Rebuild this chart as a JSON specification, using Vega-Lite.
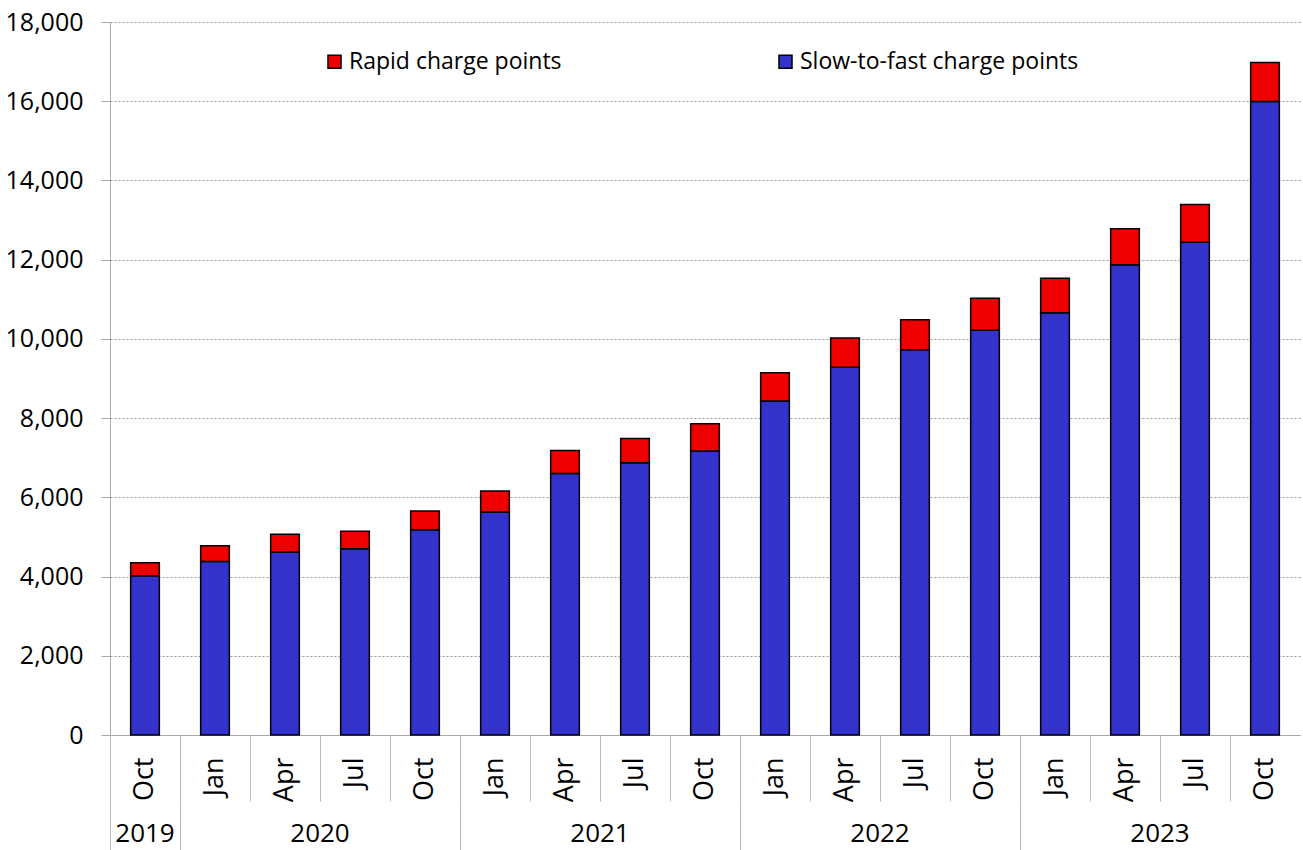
{
  "$schema": "https://vega.github.io/schema/vega-lite/v6.json",
  "width": 1190,
  "height": 713,
  "autosize": "none",
  "padding": {"left": 110, "top": 22, "right": 3, "bottom": 115},
  "background": "white",
  "config": {"font": "Open Sans", "view": {"stroke": null}},
  "data": {
    "values": [
      {"period": "2019 Oct", "type": "Slow-to-fast charge points", "value": 4020},
      {"period": "2019 Oct", "type": "Rapid charge points", "value": 330},
      {"period": "2020 Jan", "type": "Slow-to-fast charge points", "value": 4380},
      {"period": "2020 Jan", "type": "Rapid charge points", "value": 400},
      {"period": "2020 Apr", "type": "Slow-to-fast charge points", "value": 4620},
      {"period": "2020 Apr", "type": "Rapid charge points", "value": 450},
      {"period": "2020 Jul", "type": "Slow-to-fast charge points", "value": 4700},
      {"period": "2020 Jul", "type": "Rapid charge points", "value": 445},
      {"period": "2020 Oct", "type": "Slow-to-fast charge points", "value": 5180},
      {"period": "2020 Oct", "type": "Rapid charge points", "value": 475},
      {"period": "2021 Jan", "type": "Slow-to-fast charge points", "value": 5630},
      {"period": "2021 Jan", "type": "Rapid charge points", "value": 530},
      {"period": "2021 Apr", "type": "Slow-to-fast charge points", "value": 6600},
      {"period": "2021 Apr", "type": "Rapid charge points", "value": 580},
      {"period": "2021 Jul", "type": "Slow-to-fast charge points", "value": 6875},
      {"period": "2021 Jul", "type": "Rapid charge points", "value": 610},
      {"period": "2021 Oct", "type": "Slow-to-fast charge points", "value": 7170},
      {"period": "2021 Oct", "type": "Rapid charge points", "value": 690},
      {"period": "2022 Jan", "type": "Slow-to-fast charge points", "value": 8430},
      {"period": "2022 Jan", "type": "Rapid charge points", "value": 715},
      {"period": "2022 Apr", "type": "Slow-to-fast charge points", "value": 9283},
      {"period": "2022 Apr", "type": "Rapid charge points", "value": 740},
      {"period": "2022 Jul", "type": "Slow-to-fast charge points", "value": 9725},
      {"period": "2022 Jul", "type": "Rapid charge points", "value": 760},
      {"period": "2022 Oct", "type": "Slow-to-fast charge points", "value": 10215},
      {"period": "2022 Oct", "type": "Rapid charge points", "value": 810},
      {"period": "2023 Jan", "type": "Slow-to-fast charge points", "value": 10660},
      {"period": "2023 Jan", "type": "Rapid charge points", "value": 870},
      {"period": "2023 Apr", "type": "Slow-to-fast charge points", "value": 11870},
      {"period": "2023 Apr", "type": "Rapid charge points", "value": 910},
      {"period": "2023 Jul", "type": "Slow-to-fast charge points", "value": 12440},
      {"period": "2023 Jul", "type": "Rapid charge points", "value": 950},
      {"period": "2023 Oct", "type": "Slow-to-fast charge points", "value": 15990},
      {"period": "2023 Oct", "type": "Rapid charge points", "value": 985}
    ]
  },
  "layer": [
    {
      "mark": {"type": "bar", "stroke": "black", "strokeWidth": 1.5},
      "encoding": {
        "x": {
          "field": "period", "type": "nominal", "sort": null,
          "scale": {"paddingInner": 0.59, "paddingOuter": 0.295},
          "axis": {
            "orient": "bottom", "title": null,
            "labelExpr": "split(datum.value, ' ')[1]",
            "labelAngle": -90, "labelAlign": "right", "labelBaseline": "middle",
            "labelFontSize": 27, "labelColor": "black",
            "bandPosition": -0.7195, "tickSize": 66, "tickColor": "#bbb",
            "domainColor": "#aaa", "labelPadding": -44
          }
        },
        "y": {
          "field": "value", "type": "quantitative", "stack": "zero",
          "scale": {"domain": [0, 18000]},
          "axis": {
            "title": null,
            "values": [0, 2000, 4000, 6000, 8000, 10000, 12000, 14000, 16000, 18000],
            "format": ",.0f", "labelFontSize": 25, "labelColor": "black",
            "tickSize": 9, "tickColor": "#aaa", "domainColor": "#aaa",
            "labelPadding": 18, "gridColor": "#999", "gridDash": [2, 2]
          }
        },
        "color": {
          "field": "type", "type": "nominal",
          "scale": {"domain": ["Rapid charge points", "Slow-to-fast charge points"], "range": ["#EE0000", "#3333CC"]},
          "legend": {
            "title": null, "orient": "none", "legendX": 213, "legendY": 28,
            "direction": "horizontal", "columns": 2, "columnPadding": 212,
            "symbolType": "square", "symbolSize": 170, "symbolStrokeColor": "black",
            "symbolStrokeWidth": 1.5, "symbolOpacity": 1,
            "labelFontSize": 23, "labelColor": "black", "labelOffset": 3, "labelLimit": 400
          }
        },
        "order": {"field": "type", "sort": "descending"}
      }
    },
    {
      "mark": {"type": "point", "opacity": 0},
      "encoding": {
        "x": {
          "field": "period", "type": "nominal", "sort": null,
          "axis": {
            "orient": "bottom", "offset": 66, "title": null, "domain": false,
            "values": ["2019 Oct", "2020 Jan", "2021 Jan", "2022 Jan", "2023 Jan"],
            "bandPosition": -0.7195, "tickSize": 49, "tickColor": "#bbb",
            "labelExpr": "datum.value == '2019 Oct' ? '2019' : ''",
            "labelAngle": 0, "labelAlign": "center", "labelBaseline": "top",
            "labelPadding": -30, "labelFontSize": 26, "labelColor": "black"
          }
        }
      }
    },
    {
      "mark": {"type": "point", "opacity": 0},
      "encoding": {
        "x": {
          "field": "period", "type": "nominal", "sort": null,
          "axis": {
            "orient": "bottom", "offset": 66, "title": null, "domain": false,
            "values": ["2020 Apr", "2021 Apr", "2022 Apr", "2023 Apr"],
            "tickSize": 49, "tickOpacity": 0,
            "labelExpr": "split(datum.value, ' ')[0]",
            "labelAngle": 0, "labelAlign": "center", "labelBaseline": "top",
            "labelOffset": 35,
            "labelPadding": -30, "labelFontSize": 26, "labelColor": "black"
          }
        }
      }
    }
  ],
  "resolve": {"axis": {"x": "independent"}}
}
